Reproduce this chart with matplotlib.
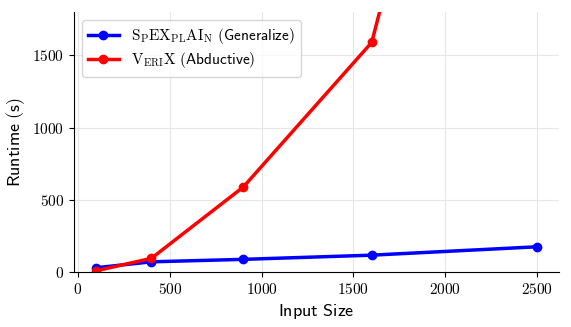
import matplotlib
matplotlib.use('Agg')
import matplotlib.pyplot as plt

plt.rcParams['mathtext.fontset'] = 'cm'
plt.rcParams['font.family'] = 'DejaVu Sans'

sizes = [100, 400, 900, 1600, 2500]
spexplain = [30, 71, 88, 117, 175]
verix = [9, 95, 588, 1590, 6000]

fig, ax = plt.subplots(figsize=(5.71, 3.27), dpi=100)
fig.subplots_adjust(left=0.13, right=0.979, bottom=0.168, top=0.963)

ax.plot(sizes, spexplain, color='blue', marker='o', lw=2.5, ms=6,
        label=r'$\mathrm{S_PEX_{PL}AI_N}$ $\mathsf{(Generalize)}$')
ax.plot(sizes, verix, color='red', marker='o', lw=2.5, ms=6,
        label=r'$\mathrm{V_{ERI}X}$ $\mathsf{(Abductive)}$')

ax.set_ylim(0, 1800)
ax.set_xlim(-20, 2620)
ax.set_xticks([0, 500, 1000, 1500, 2000, 2500])
ax.set_yticks([0, 500, 1000, 1500])
ax.set_xticklabels([f'${v}$' for v in [0, 500, 1000, 1500, 2000, 2500]])
ax.set_yticklabels([f'${v}$' for v in [0, 500, 1000, 1500]])
ax.tick_params(labelsize=11)

ax.set_xlabel(r'$\mathsf{Input\ Size}$', fontsize=13)
ax.set_ylabel(r'$\mathsf{Runtime\ (s)}$', fontsize=13)

ax.grid(True, color='#e6e6e6', lw=0.8)
ax.set_axisbelow(True)
ax.spines['top'].set_visible(False)
ax.spines['right'].set_visible(False)

ax.legend(loc='upper left', fontsize=11, handlelength=2.0, labelspacing=0.3)

fig.savefig('out.png')
